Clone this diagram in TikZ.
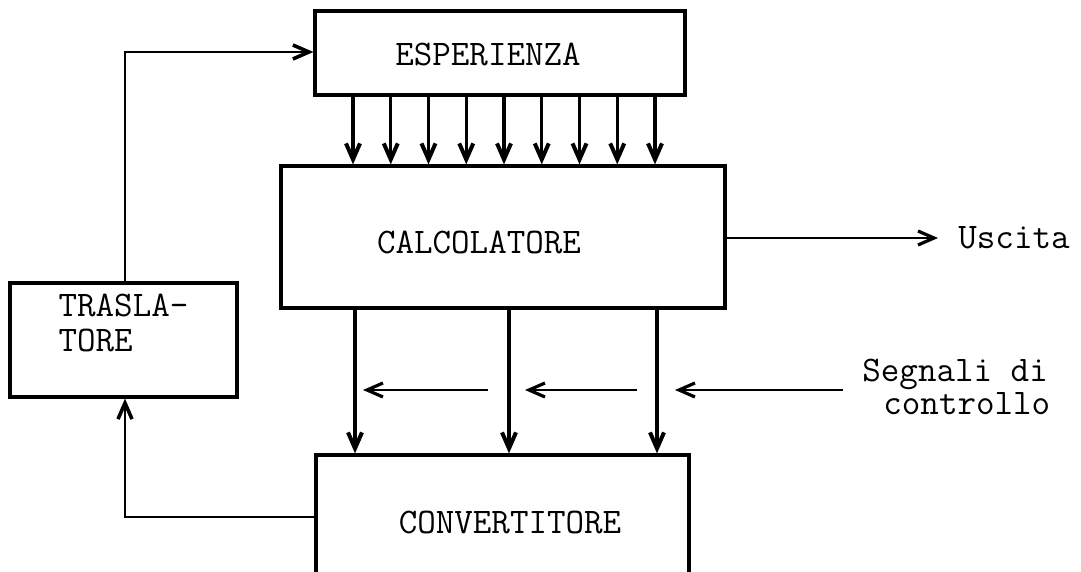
\documentclass[tikz,border=0pt]{standalone}
\usepackage{fontspec}
\usetikzlibrary{arrows.meta}
\begin{document}
\begin{tikzpicture}[x=0.5pt,y=-0.5pt,
  box/.style={draw, line width=1.6pt, inner sep=0pt, text height=11pt, text depth=0pt,
    font=\ttfamily\fontsize{18}{17.5}\selectfont},
  lbl/.style={font=\ttfamily\fontsize{18}{14}\selectfont, inner sep=0pt},
  arr/.style={line width=1.6pt, -{Straight Barb[length=8pt,width=7pt,line width=2pt]}},
  thinarr/.style={line width=1.1pt, -{Straight Barb[length=8pt,width=7pt,line width=1.6pt]}},
  link/.style={line width=1.3pt}]
\useasboundingbox (0,0) rectangle (1081,572);
\clip (0,0) rectangle (1081,572);
\fill[white] (0,0) rectangle (1081,572);

% blocks
\node[box, minimum width=185pt, minimum height=42pt, text height=13pt] (esp) at (500,53) {ESPERIENZA\hspace*{12pt}};
\node[box, minimum width=222pt, minimum height=71pt, text height=17pt] (calc) at (503,237) {CALCOLATORE\hspace*{24pt}};
\node[box, minimum width=113.5pt, minimum height=57pt, align=left, text height=11pt] (tras) at (123.5,340) {TRASLA-\\TORE};
\node[box, minimum width=186.5pt, minimum height=67.5pt] (conv) at (502.5,522.5) {\hspace*{7.5pt}CONVERTITORE};

% labels
\node[lbl, anchor=west] (usc) at (958,238) {Uscita};
\node[lbl, anchor=base west] (seg) at (862,381) {Segnali di};
\node[lbl, anchor=base west] (ctl) at (883,414) {controllo};

% ESPERIENZA -> CALCOLATORE
\foreach \i in {0,...,8} {
  \coordinate (t\i) at ({353+37.75*\i},0);
  \draw[arr] (esp.south -| t\i) -- (calc.north -| t\i);
}

% CALCOLATORE -> CONVERTITORE
\foreach \xx [count=\k] in {355,509,657} {
  \coordinate (d\k) at (\xx,0);
  \draw[arr] (calc.south -| d\k) -- (conv.north -| d\k);
}

% control signal arrows
\coordinate (s1) at (488,390); \coordinate (e1) at (363,390);
\coordinate (s2) at (637,390); \coordinate (e2) at (525,390);
\coordinate (s3) at (843,390); \coordinate (e3) at (675,390);
\draw[thinarr] (s1) -- (e1);
\draw[thinarr] (s2) -- (e2);
\draw[thinarr] (s3) -- (e3);

% output
\coordinate (uend) at (938,238);
\draw[thinarr] (calc.east |- uend) -- (uend);

% feedback loop
\coordinate (fbtop) at (125,52);
\coordinate (fbbot) at (125,517);
\draw[link, -{Straight Barb[length=8pt,width=7pt,line width=1.8pt]}] (tras.north -| fbtop) -- (fbtop) -- (esp.west |- fbtop);
\draw[link, -{Straight Barb[length=8pt,width=7pt,line width=1.8pt]}] (conv.west |- fbbot) -- (fbbot) -- (tras.south -| fbbot);
\end{tikzpicture}
\end{document}
